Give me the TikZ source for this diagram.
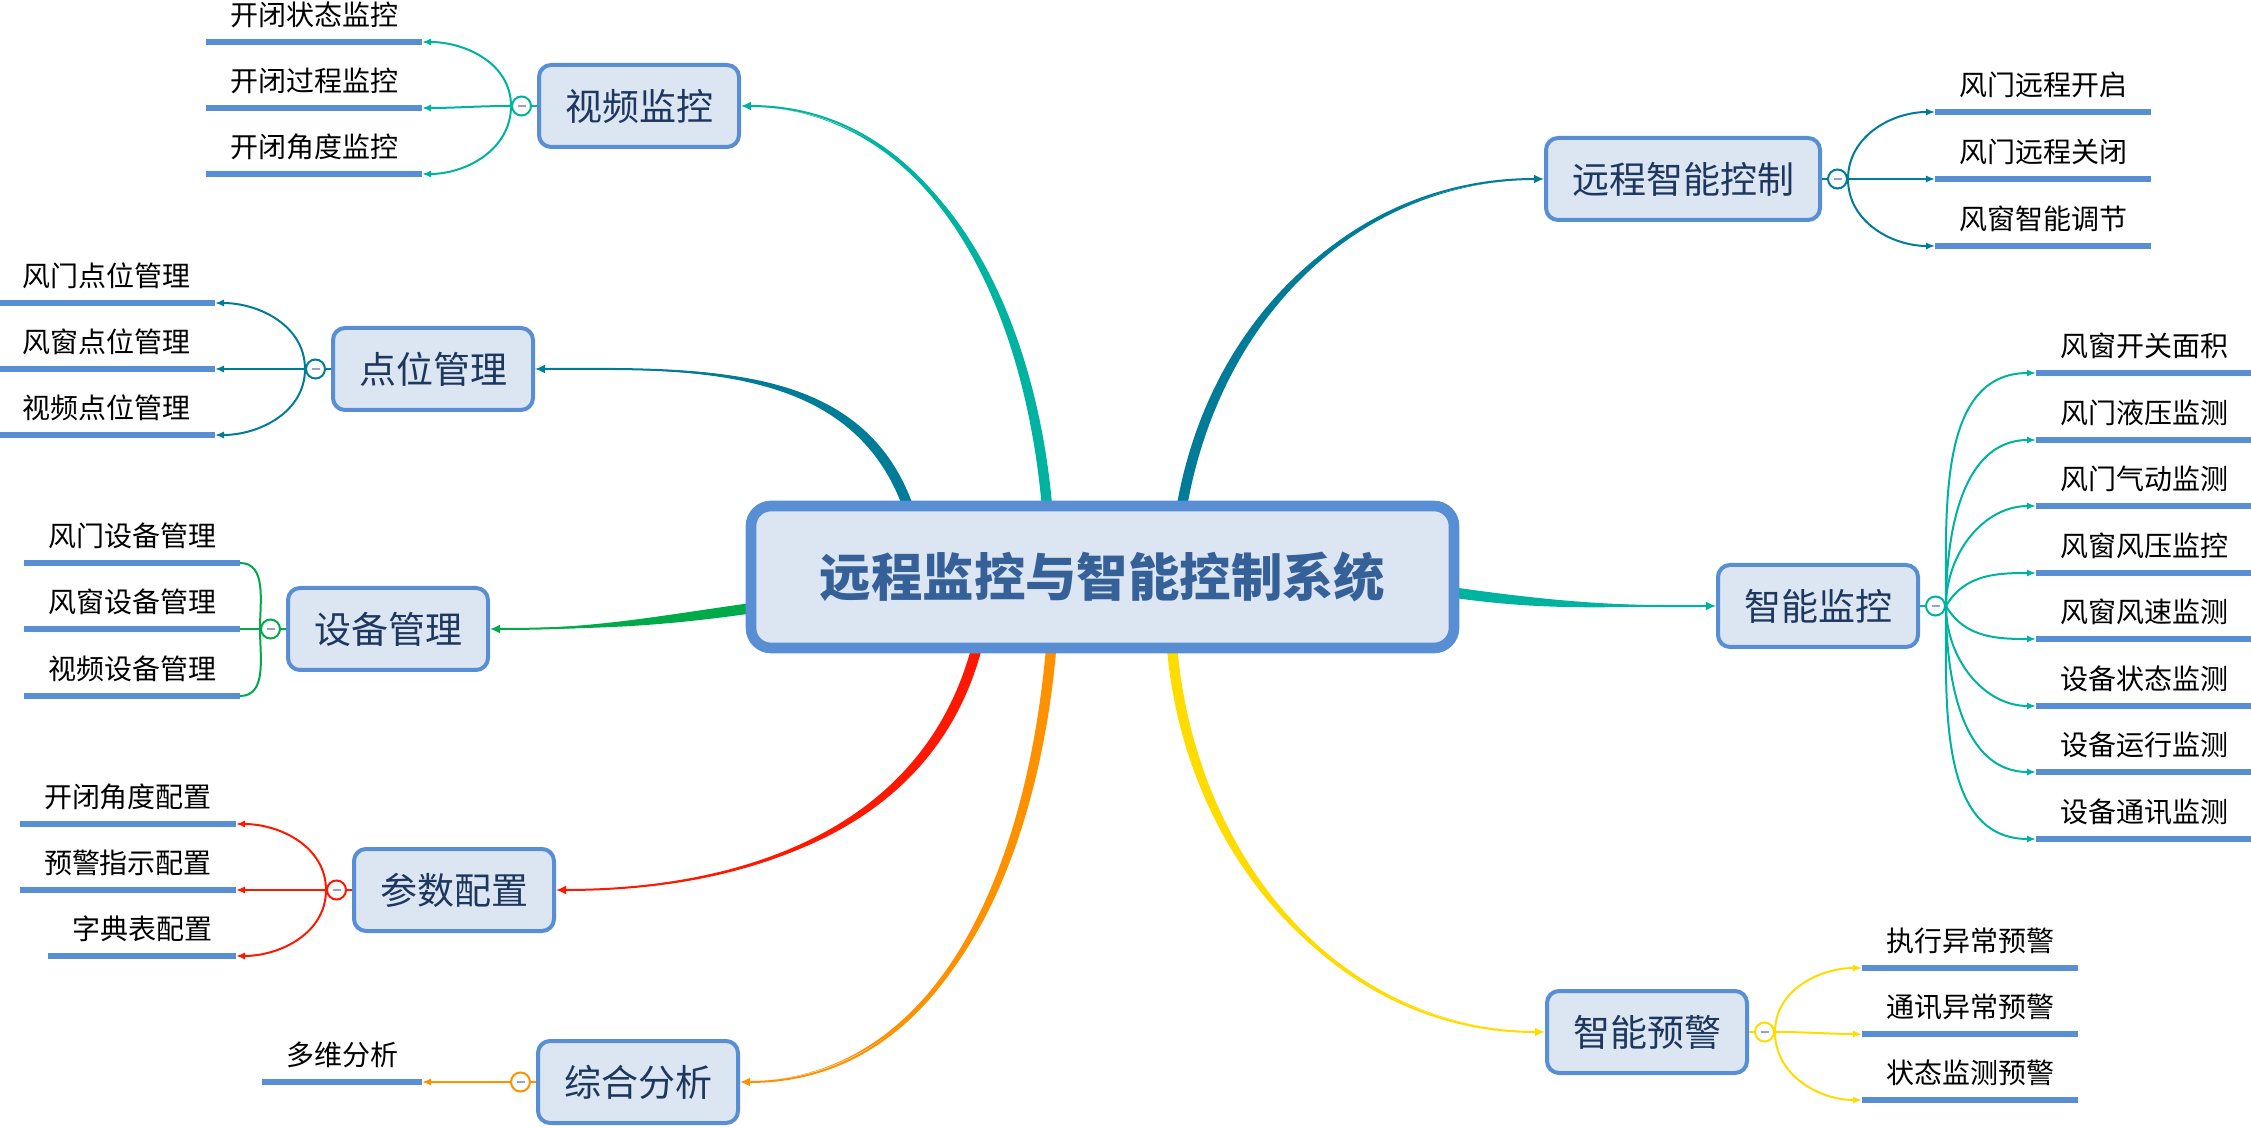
\documentclass[tikz,border=0pt]{standalone}
\usepackage{fontspec}
\setmainfont{Noto Sans CJK SC}
\usepackage{xcolor}
\usetikzlibrary{positioning,calc,arrows.meta,backgrounds}
\definecolor{boxline}{RGB}{88,142,212}
\definecolor{boxfill}{RGB}{220,230,242}
\definecolor{navy}{RGB}{30,55,95}
\definecolor{titleblue}{RGB}{54,96,152}
\definecolor{cteal}{RGB}{0,178,160}
\definecolor{dteal}{RGB}{0,124,152}
\definecolor{cgreen}{RGB}{0,170,72}
\definecolor{cred}{RGB}{255,24,0}
\definecolor{corange}{RGB}{255,144,0}
\definecolor{cyellow}{RGB}{255,220,0}
\definecolor{minusgray}{RGB}{150,160,200}

\newcommand\minus{\textcolor{minusgray}{\rule{4pt}{0.9pt}}}
% tapered link from the hub to a topic
\newcommand\mainlink[5]{%
  \fill[#1] ([shift={(#4+90:2.6pt)}]#2) to[out=#4,in=#5] (#3)
    to[out=#5,in=#4] ([shift={(#4-90:2.6pt)}]#2) -- cycle;
  \draw[#1,line width=1pt,-{Latex[length=5pt,width=4.5pt]}] (#2) to[out=#4,in=#5] (#3);
}

\tikzset{
  hub/.style={draw=boxline, fill=boxfill, line width=5.3pt, rounded corners=10pt,
    minimum width=351.5pt, minimum height=71pt, outer sep=0pt,
    font=\fontsize{25.7}{28}\selectfont\bfseries, text=titleblue},
  topic/.style={draw=boxline, fill=boxfill, line width=2pt, rounded corners=6pt,
    minimum height=41pt, inner xsep=13pt, font=\fontsize{18.5}{20}\selectfont, text=navy},
  leaf/.style={font=\fontsize{14}{16}\selectfont, inner xsep=12pt, inner ysep=6.2pt,
    text height=12pt, text depth=2pt, outer sep=0pt},
  uline/.style={boxline, line width=3pt},
  knob/.style={circle, draw=#1, fill=white, line width=1pt, minimum size=9.5pt, inner sep=0pt},
  twig/.style={line width=1pt},
  tip/.style={-{Latex[length=4.5pt,width=3.6pt]}},
}

\begin{document}
\begin{tikzpicture}[x=0.5pt,y=-0.5pt]
  \useasboundingbox (0,0) rectangle (2251,1128);

  % hub and topics
  \node[hub] (cen) at (1102.5,577) {远程监控与智能控制系统};
  \node[topic] (vid) at (639,106) {视频监控};
  \node[topic] (pt) at (433,369) {点位管理};
  \node[topic] (dev) at (388,629) {设备管理};
  \node[topic] (par) at (454,890) {参数配置};
  \node[topic] (ana) at (638,1082) {综合分析};
  \node[topic] (rc) at (1683,179) {远程智能控制};
  \node[topic] (mon) at (1818,606) {智能监控};
  \node[topic] (warn) at (1647,1032) {智能预警};

  % collapse knobs
  \node[knob=cteal, left=2.5pt of vid] (vidc) {\minus};
  \node[knob=dteal, left=2.5pt of pt] (ptc) {\minus};
  \node[knob=cgreen, left=2.5pt of dev] (devc) {\minus};
  \node[knob=cred, left=2.5pt of par] (parc) {\minus};
  \node[knob=corange, left=2.5pt of ana] (anac) {\minus};
  \node[knob=dteal, right=2.5pt of rc] (rcc) {\minus};
  \node[knob=cteal, right=2.5pt of mon] (monc) {\minus};
  \node[knob=cyellow, right=2.5pt of warn] (warnc) {\minus};
  \draw[twig,cteal] (vid) -- (vidc);
  \draw[twig,dteal] (pt) -- (ptc);
  \draw[twig,cgreen] (dev) -- (devc);
  \draw[twig,cred] (par) -- (parc);
  \draw[twig,corange] (ana) -- (anac);
  \draw[twig,dteal] (rc) -- (rcc);
  \draw[twig,cteal] (mon) -- (monc);
  \draw[twig,cyellow] (warn) -- (warnc);

  % leaves, left side
  \foreach \n/\txt/\y/\o in {1/开闭状态监控/42/90,2/开闭过程监控/108/180,3/开闭角度监控/174/-90}{
    \node[leaf,anchor=south east] (vid\n) at (422,\y) {\txt};
    \draw[uline] (vid\n.south west) -- (vid\n.south east);
    \draw[twig,tip,cteal] (vidc.west) to[out=\o,in=0] (vid\n.south east);
  }
  \foreach \n/\txt/\y/\o in {1/风门点位管理/303/90,2/风窗点位管理/369/180,3/视频点位管理/435/-90}{
    \node[leaf,anchor=south east] (pt\n) at (215,\y) {\txt};
    \draw[uline] (pt\n.south west) -- (pt\n.south east);
    \draw[twig,tip,dteal] (ptc.west) to[out=\o,in=0] (pt\n.south east);
  }
  \foreach \n/\txt/\y/\o in {1/风门设备管理/563/90,2/风窗设备管理/629/180,3/视频设备管理/696/-90}{
    \node[leaf,anchor=south east] (dev\n) at (240,\y) {\txt};
    \draw[uline] (dev\n.south west) -- (dev\n.south east);
    \draw[twig,cgreen] (devc.west) to[out=\o,in=0] (dev\n.south east);
  }
  \foreach \n/\txt/\y/\o in {1/开闭角度配置/824/90,2/预警指示配置/890/180,3/字典表配置/956/-90}{
    \node[leaf,anchor=south east] (par\n) at (236,\y) {\txt};
    \draw[uline] (par\n.south west) -- (par\n.south east);
    \draw[twig,tip,cred] (parc.west) to[out=\o,in=0] (par\n.south east);
  }
  \node[leaf,anchor=south east] (ana1) at (422,1082) {多维分析};
  \draw[uline] (ana1.south west) -- (ana1.south east);
  \draw[twig,tip,corange] (anac.west) -- (ana1.south east);

  % leaves, right side
  \foreach \n/\txt/\y/\o in {1/风门远程开启/112/90,2/风门远程关闭/179/0,3/风窗智能调节/246/-90}{
    \node[leaf,anchor=south west] (rc\n) at (1935,\y) {\txt};
    \draw[uline] (rc\n.south west) -- (rc\n.south east);
    \draw[twig,tip,dteal] (rcc.east) to[out=\o,in=180] (rc\n.south west);
  }
  \foreach \n/\txt/\y/\o in {1/风窗开关面积/373/90,2/风门液压监测/440/90,3/风门气动监测/506/90,
      4/风窗风压监控/573/60,5/风窗风速监测/639/-60,6/设备状态监测/706/-90,
      7/设备运行监测/772/-90,8/设备通讯监测/839/-90}{
    \node[leaf,anchor=south west] (mon\n) at (2036,\y) {\txt};
    \draw[uline] (mon\n.south west) -- (mon\n.south east);
    \draw[twig,tip,cteal] (monc.east) to[out=\o,in=180] (mon\n.south west);
  }
  \foreach \n/\txt/\y/\o in {1/执行异常预警/968/90,2/通讯异常预警/1034/0,3/状态监测预警/1100/-90}{
    \node[leaf,anchor=south west] (warn\n) at (1862,\y) {\txt};
    \draw[uline] (warn\n.south west) -- (warn\n.south east);
    \draw[twig,tip,cyellow] (warnc.east) to[out=\o,in=180] (warn\n.south west);
  }

  % hub links
  \coordinate (o1) at ($(cen.north west)!.223!(cen.north east)$);
  \coordinate (o2) at ($(cen.north west)!.421!(cen.north east)$);
  \coordinate (o3) at ($(cen.north west)!.613!(cen.north east)$);
  \coordinate (o4) at ($(cen.north east)!.61!(cen.south east)$);
  \coordinate (o5) at ($(cen.north west)!.72!(cen.south west)$);
  \coordinate (o6) at ($(cen.south west)!.321!(cen.south east)$);
  \coordinate (o7) at ($(cen.south west)!.427!(cen.south east)$);
  \coordinate (o8) at ($(cen.south west)!.599!(cen.south east)$);
  \begin{scope}[on background layer]
    \mainlink{dteal}{o1}{pt.east}{110}{0}
    \mainlink{cteal}{o2}{vid.east}{95}{0}
    \mainlink{dteal}{o3}{rc.west}{80}{180}
    \mainlink{cteal}{o4}{mon.west}{-8}{180}
    \mainlink{cgreen}{o5}{dev.east}{188}{0}
    \mainlink{cred}{o6}{par.east}{-105}{0}
    \mainlink{corange}{o7}{ana.east}{-95}{0}
    \mainlink{cyellow}{o8}{warn.west}{-85}{180}
  \end{scope}
\end{tikzpicture}
\end{document}
